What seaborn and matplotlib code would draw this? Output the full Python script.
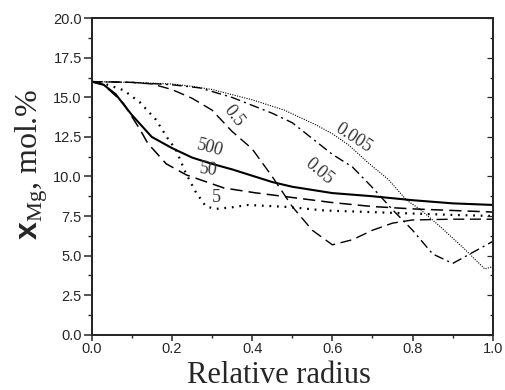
import matplotlib
matplotlib.use('Agg')
import matplotlib.pyplot as plt
import seaborn as sns
from matplotlib.ticker import MultipleLocator, FormatStrFormatter

# curves, labelled by parameter value
x_500 = [0, 0.03, 0.06, 0.1, 0.15, 0.2, 0.25, 0.3, 0.35, 0.4, 0.45, 0.5, 0.6, 0.7, 0.8, 0.9, 1.0]
y_500 = [16.0, 15.8, 15.2, 13.9, 12.5, 11.8, 11.2, 10.8, 10.45, 10.05, 9.65, 9.35, 8.95, 8.75, 8.5, 8.3, 8.2]

x_50 = [0, 0.03, 0.06, 0.08, 0.1, 0.12, 0.14, 0.186, 0.236, 0.27, 0.33, 0.41, 0.51, 0.6, 0.7, 0.8, 0.9, 1.0]
y_50 = [16.0, 15.8, 15.1, 14.6, 13.8, 13.0, 12.1, 10.8, 10.1, 9.8, 9.27, 8.96, 8.64, 8.35, 8.1, 7.95, 7.85, 7.75]

x_5 = [0, 0.04, 0.08, 0.12, 0.16, 0.19, 0.21, 0.235, 0.26, 0.285, 0.31, 0.35, 0.39, 0.49, 0.58, 0.75, 0.9, 1.0]
y_5 = [16.0, 15.8, 15.45, 14.7, 13.6, 12.4, 11.7, 10.2, 9.0, 8.1, 7.95, 8.05, 8.2, 8.07, 7.85, 7.7, 7.57, 7.5]

x_05 = [0, 0.1, 0.15, 0.2, 0.25, 0.3, 0.35, 0.4, 0.45, 0.5, 0.55, 0.6, 0.65, 0.7, 0.75, 0.8, 0.9, 1.0]
y_05 = [16.0, 15.95, 15.85, 15.5, 14.95, 14.2, 12.85, 11.75, 10.0, 8.1, 6.6, 5.68, 6.0, 6.6, 7.05, 7.25, 7.3, 7.3]

x_005 = [0, 0.1, 0.2, 0.27, 0.35, 0.4, 0.45, 0.5, 0.55, 0.6, 0.65, 0.7, 0.75, 0.8, 0.85, 0.9, 0.95, 1.0]
y_005 = [16.0, 15.95, 15.8, 15.6, 15.0, 14.5, 14.0, 13.4, 12.4, 11.4, 10.6, 9.3, 7.9, 6.6, 5.1, 4.5, 5.2, 5.9]

x_0005 = [0, 0.1, 0.2, 0.25, 0.3, 0.4, 0.48, 0.56, 0.6, 0.64, 0.69, 0.74, 0.785, 0.82, 0.87, 0.93, 0.98, 1.0]
y_0005 = [16.0, 15.95, 15.85, 15.7, 15.5, 14.85, 14.2, 13.25, 12.7, 12.0, 10.85, 9.8, 8.5, 7.9, 6.8, 5.4, 4.15, 4.3]

curve_labels = ['500', '50', '5', '0.5', '0.05', '0.005']

sns.set_style('ticks')
plt.rcParams['font.family'] = ['Liberation Sans', 'DejaVu Sans']
plt.rcParams['mathtext.fontset'] = 'custom'
plt.rcParams['mathtext.rm'] = 'Liberation Serif'
plt.rcParams['mathtext.bf'] = 'Liberation Sans:bold'

fig = plt.figure(figsize=(5.06, 3.9), dpi=100)
ax = fig.add_axes([0.181, 0.142, 0.793, 0.811])

sns.lineplot(x=x_500, y=y_500, ax=ax, color='k', lw=1.5, sort=False)
sns.lineplot(x=x_50, y=y_50, ax=ax, color='k', lw=1.1, dashes=(8, 4), sort=False)
sns.lineplot(x=x_5, y=y_5, ax=ax, color='k', lw=1.6, dashes=(0.8, 2.6), sort=False)
sns.lineplot(x=x_05, y=y_05, ax=ax, color='k', lw=1.0, dashes=(8, 4), sort=False)
sns.lineplot(x=x_005, y=y_005, ax=ax, color='k', lw=1.0, dashes=(7, 3, 1.5, 3), sort=False)
sns.lineplot(x=x_0005, y=y_0005, ax=ax, color='k', lw=0.8, dashes=(1, 1.2), sort=False)

lab_kw = dict(family='Liberation Serif', fontsize=13, color='#333333', ha='center', va='center')
ax.text(0.295, 11.8, curve_labels[0], rotation=-15, **lab_kw)
ax.text(0.29, 10.4, curve_labels[1], rotation=-8, **lab_kw)
ax.text(0.312, 8.7, curve_labels[2], **lab_kw)
ax.text(0.355, 13.8, curve_labels[3], rotation=-52, **lab_kw)
ax.text(0.566, 10.3, curve_labels[4], rotation=-40, **lab_kw)
ax.text(0.653, 12.4, curve_labels[5], rotation=-33, **lab_kw)

ax.set_xlim(0, 1.0)
ax.set_ylim(0, 20)
ax.xaxis.set_major_locator(MultipleLocator(0.2))
ax.xaxis.set_minor_locator(MultipleLocator(0.1))
ax.yaxis.set_major_locator(MultipleLocator(2.5))
ax.yaxis.set_minor_locator(MultipleLocator(1.25))
ax.xaxis.set_major_formatter(FormatStrFormatter('%.1f'))
ax.yaxis.set_major_formatter(FormatStrFormatter('%.1f'))
ax.tick_params(which='major', direction='out', width=1.1, labelsize=10.5, pad=1)
ax.tick_params(axis='y', which='major', length=6)
ax.tick_params(axis='y', which='minor', length=3, width=1.0)
ax.tick_params(axis='x', which='major', length=4)
ax.tick_params(axis='x', which='minor', length=2.5, width=1.0)

# inward ticks on the right spine, no labels
ax_r = ax.twinx()
ax_r.set_ylim(0, 20)
ax_r.yaxis.set_major_locator(MultipleLocator(2.5))
ax_r.yaxis.set_minor_locator(MultipleLocator(1.25))
ax_r.tick_params(which='both', direction='in', labelright=False, width=0.9)
ax_r.tick_params(which='major', length=4)
ax_r.tick_params(which='minor', length=2)

for a in (ax, ax_r):
    for s in a.spines.values():
        s.set_linewidth(1.4)
        s.set_visible(True)

ax.set_xlabel('Relative radius', family='Liberation Serif', fontsize=22, labelpad=4, x=0.467)
ax.set_ylabel(r'$\mathbf{x}_{\mathrm{Mg}}$, mol.%', family='Liberation Serif', fontsize=23, labelpad=2, y=0.54)

fig.savefig('out.png', dpi=100)
